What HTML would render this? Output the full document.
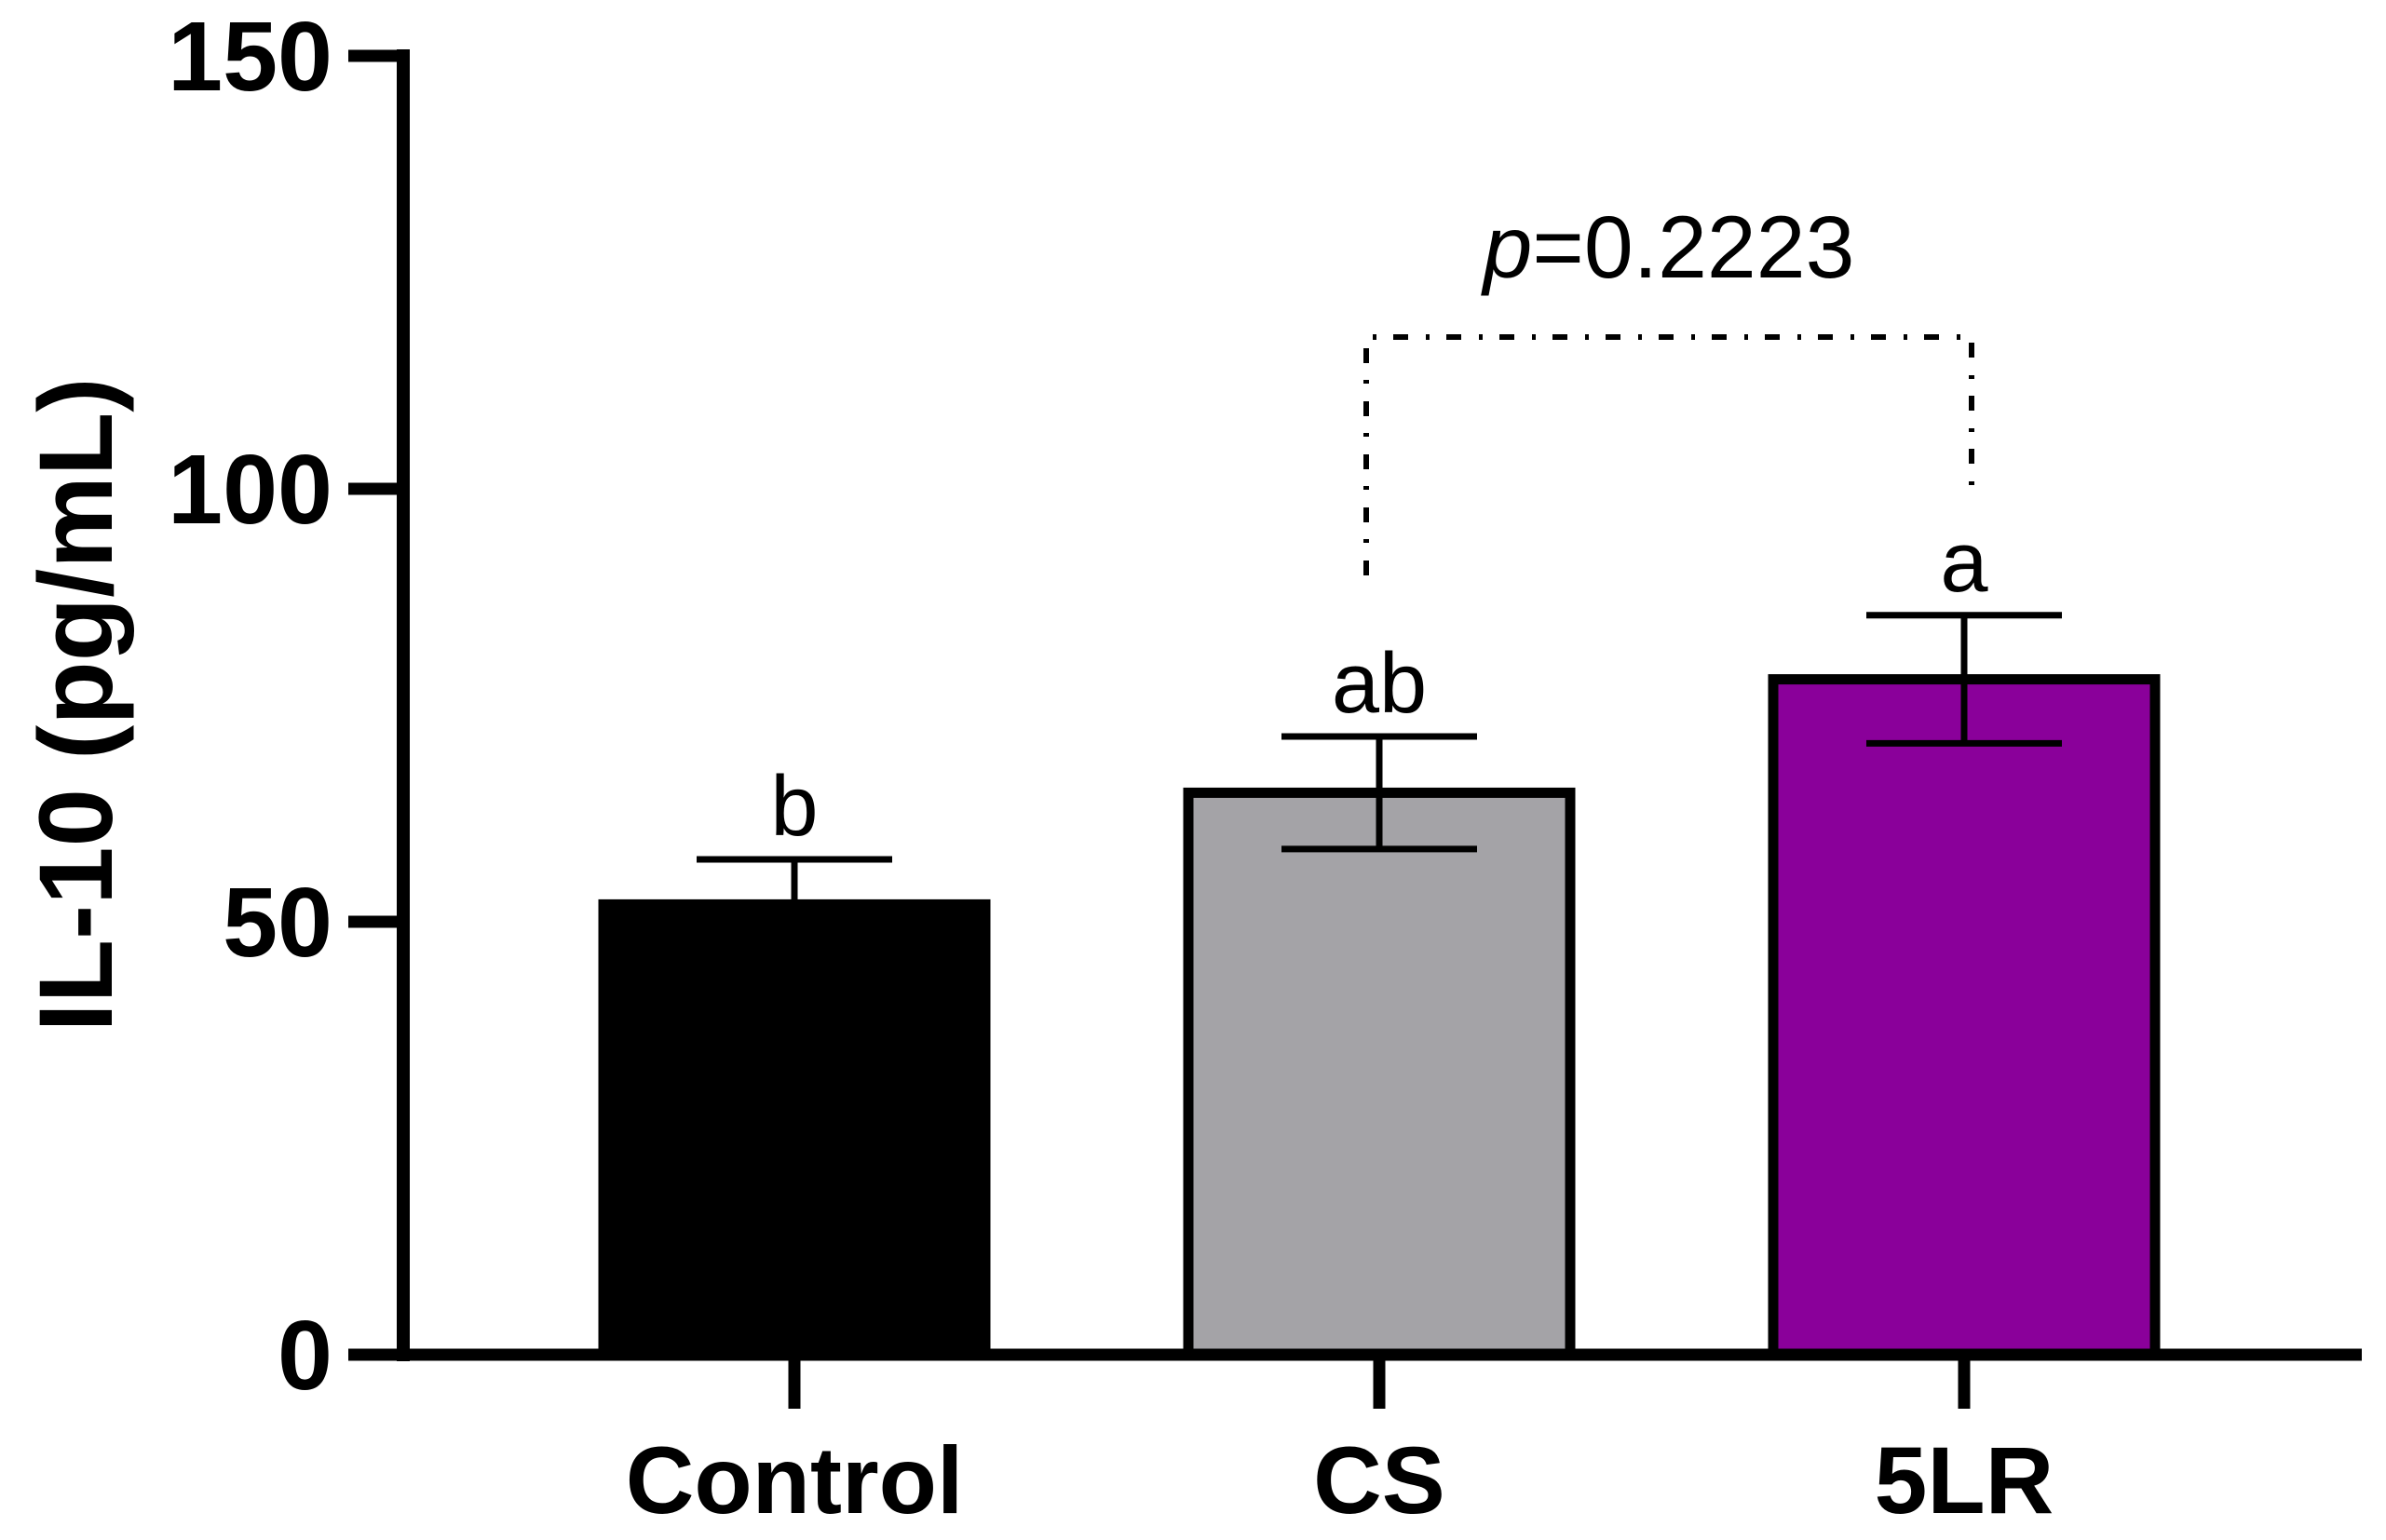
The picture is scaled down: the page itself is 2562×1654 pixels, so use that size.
<!DOCTYPE html>
<html><head><meta charset="utf-8"><style>
html,body{margin:0;padding:0;background:#fff;}
svg{display:block;}
text{font-family:"Liberation Sans",Arial,sans-serif;}
</style></head><body>
<svg id="chart" width="2562" height="1654" viewBox="0 0 2562 1654" xmlns="http://www.w3.org/2000/svg">
<g id="plot"></g>
</svg>
<script>
const categories = ["Control", "CS", "5LR"];
const means = [52, 64.9, 78];
const sems = [5.2, 6.5, 7.4];
const letters = ["b", "ab", "a"];
const yTicks = [0, 50, 100, 150];
const fills = ["#000000", "#a4a3a7", "#8a009a"];
const pLabel = "p=0.2223";

const NS = "http://www.w3.org/2000/svg";
const g = document.getElementById("plot");
const Y0 = 1455, PXU = 9.3;
function yScale(v){ return Y0 - v * PXU; }
const centers0 = 853, step = 628;
function xScale(i){ return centers0 + i * step; }
const barW = 410, capW = 210;

function mk(tag, attrs, parent){
  const el = document.createElementNS(NS, tag);
  for (const k in attrs) el.setAttribute(k, attrs[k]);
  (parent || g).appendChild(el);
  return el;
}

// y axis
let el = mk("line", {x1:433, y1:yScale(150)-7, x2:433, y2:Y0+7, stroke:"#000","stroke-width":14});


yTicks.forEach(function(t){
  const tk = mk("line", {x1:374, y1:yScale(t), x2:433, y2:yScale(t), stroke:"#000","stroke-width":13});
  
  
  const tl = mk("text", {x:357, y:yScale(t)+37, "text-anchor":"end","font-size":106,"font-weight":"bold"});
  tl.textContent = t;
  
  
});
// y title
el = mk("text", {x:0, y:0, transform:"translate(120,757) rotate(-90)", "text-anchor":"middle","font-size":112,"font-weight":"bold"});
el.textContent = "IL-10 (pg/mL)";



// bars
categories.forEach(function(c, i){
  const cx = xScale(i);
  const top = yScale(means[i]);
  const b = mk("rect", {x:cx-barW/2, y:top, width:barW, height:Y0-top, fill:fills[i], stroke:"#000","stroke-width":11});
  
  
  const hi = yScale(means[i]+sems[i]), lo = yScale(means[i]-sems[i]);
  const ev = mk("line", {x1:cx, y1:hi, x2:cx, y2:lo, stroke:"#000","stroke-width":7});
  
  
  const ct = mk("line", {x1:cx-capW/2, y1:hi, x2:cx+capW/2, y2:hi, stroke:"#000","stroke-width":7});
  
  
  if (i > 0) {
    const cb = mk("line", {x1:cx-capW/2, y1:lo, x2:cx+capW/2, y2:lo, stroke:"#000","stroke-width":7});
    
    
  }
  const lt = mk("text", {x:cx, y:hi-26, "text-anchor":"middle","font-size":92});
  lt.textContent = letters[i];
  
  
  const xt = mk("line", {x1:cx, y1:Y0, x2:cx, y2:1513, stroke:"#000","stroke-width":13});
  
  
  const xl = mk("text", {x:cx, y:1625, "text-anchor":"middle","font-size":102,"font-weight":"bold"});
  xl.textContent = c;
  
  
});
// x axis
el = mk("line", {x1:426, y1:Y0, x2:2536, y2:Y0, stroke:"#000","stroke-width":13});



// bracket
const bx1 = xScale(1) - 14, bx2 = xScale(2) + 8, by = 362;
el = mk("path", {d:"M"+bx1+",618 L"+bx1+","+by+" L"+bx2+","+by+" L"+bx2+",528", fill:"none", stroke:"#000","stroke-width":6,"stroke-dasharray":"16,19,4,18"});


el = mk("text", {x:1792, y:298, "text-anchor":"middle","font-size":95});
el.innerHTML = '<tspan font-style="italic">p</tspan>=0.2223';


</script>
</body></html>
